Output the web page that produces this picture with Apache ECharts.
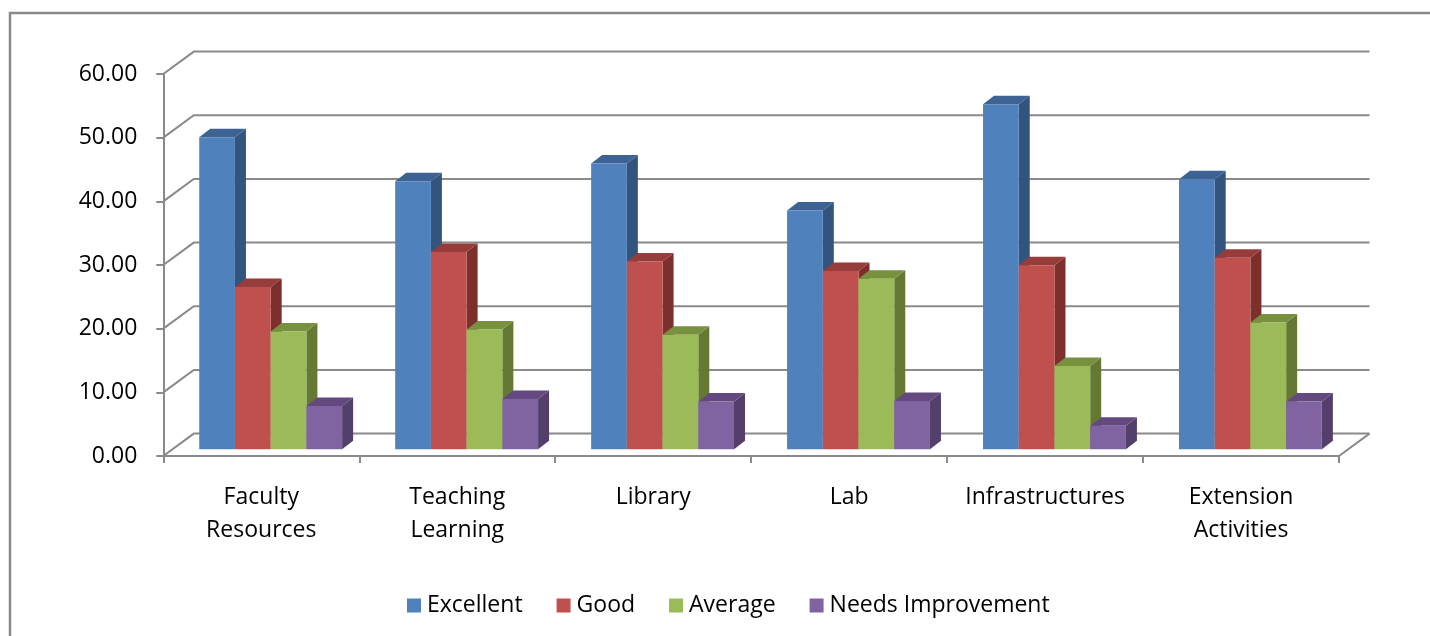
<!DOCTYPE html>
<html><head><meta charset="utf-8">
<script src="https://cdn.jsdelivr.net/npm/echarts@6/dist/echarts.min.js"></script>
<style>html,body{margin:0;padding:0;background:#fff}#c{width:1430px;height:636px}</style>
</head><body><div id="c"></div>
<script>
// ---- data ----
const categories = ['Faculty\nResources', 'Teaching\nLearning', 'Library', 'Lab', 'Infrastructures', 'Extension\nActivities'];
const seriesNames = ['Excellent', 'Good', 'Average', 'Needs Improvement'];
const excellent = [49.0, 42.1, 44.9, 37.5, 54.2, 42.4];
const good = [25.5, 31.0, 29.5, 28.0, 28.9, 30.1];
const average = [18.5, 18.8, 18.0, 26.8, 13.1, 19.9];
const needsImprovement = [6.8, 7.9, 7.5, 7.6, 3.7, 7.5];
const yTicks = [0, 10, 20, 30, 40, 50, 60];

// ---- styles ----
const FONT = 'Open Sans';
const GRID_COLOR = '#8a8a8a';
const palettes = [
  { front: '#4F81BD', top: '#3C6394', side: '#33547D' },
  { front: '#C0504D', top: '#963C3A', side: '#7D2F2D' },
  { front: '#9BBB59', top: '#77913F', side: '#647933' },
  { front: '#8064A2', top: '#63497F', side: '#533F6A' }
];
const WALL_DX = 30.5, WALL_DY = -22.4;   // back wall offset
const PLANE_DX = 9.4, PLANE_DY = -6.7;   // bar front plane offset
const DEPTH_DX = 11, DEPTH_DY = -8.5;    // bar depth
const BAR_FRAC = 0.1823;

const seriesValues = [excellent, good, average, needsImprovement];

function barRenderer(s, pal) {
  return function (params, api) {
    const i = api.value(0), v = api.value(1);
    const top = api.coord([i, v]);
    const base = api.coord([i, 0]);
    const band = api.size([1, 0])[0];
    const bw = band * BAR_FRAC;
    const gw = bw * 4;
    const x0 = top[0] - gw / 2 + s * bw + PLANE_DX;
    const x1 = x0 + bw;
    const yt = top[1] + PLANE_DY, yb = base[1] + PLANE_DY;
    return {
      type: 'group',
      children: [
        { type: 'polygon', shape: { points: [[x1, yt], [x1 + DEPTH_DX, yt + DEPTH_DY], [x1 + DEPTH_DX, yb + DEPTH_DY], [x1, yb]] }, style: { fill: pal.side } },
        { type: 'polygon', shape: { points: [[x0, yt], [x0 + DEPTH_DX, yt + DEPTH_DY], [x1 + DEPTH_DX, yt + DEPTH_DY], [x1, yt]] }, style: { fill: pal.top } },
        { type: 'rect', shape: { x: x0, y: yt, width: bw, height: yb - yt }, style: { fill: pal.front } }
      ]
    };
  };
}

function wallRenderer(params, api) {
  const v = api.value(1);
  const cs = params.coordSys;
  const y = api.coord([0, v])[1];
  const children = [{
    type: 'polyline',
    shape: { points: [[cs.x, y], [cs.x + WALL_DX, y + WALL_DY], [cs.x + cs.width + WALL_DX, y + WALL_DY]] },
    style: { stroke: GRID_COLOR, lineWidth: 2, fill: null }
  }];
  if (v === 0) {
    children.push({
      type: 'line',
      shape: { x1: cs.x + cs.width, y1: y, x2: cs.x + cs.width + WALL_DX, y2: y + WALL_DY },
      style: { stroke: GRID_COLOR, lineWidth: 2 }
    });
  }
  return { type: 'group', children };
}

const series = [{
  type: 'custom',
  name: '_wall',
  silent: true,
  renderItem: wallRenderer,
  data: yTicks.map(v => [0, v]),
  z: 1
}];
seriesNames.forEach((n, s) => {
  series.push({
    type: 'custom',
    name: n,
    renderItem: barRenderer(s, palettes[s]),
    itemStyle: { color: palettes[s].front },
    data: seriesValues[s].map((v, i) => [i, v]),
    z: 2
  });
});

const chart = echarts.init(document.getElementById('c'), null, { renderer: 'canvas' });
chart.setOption({
  animation: false,
  backgroundColor: '#fff',
  textStyle: { fontFamily: FONT },
  graphic: [{
    type: 'rect', z: -10, silent: true,
    shape: { x: 10, y: 13, width: 1500, height: 700 },
    style: { fill: null, stroke: '#8a8a8a', lineWidth: 2.5 }
  }],
  grid: { left: 163.3, right: 91, top: 74, bottom: 180, containLabel: false },
  xAxis: {
    type: 'category',
    data: categories,
    boundaryGap: true,
    axisLine: { show: true, lineStyle: { color: GRID_COLOR, width: 2 } },
    axisTick: { show: true, length: 7, interval: 0, lineStyle: { color: GRID_COLOR, width: 2 } },
    axisLabel: { interval: 0, margin: 25, fontSize: 23, lineHeight: 33, color: '#000', fontFamily: FONT },
    splitLine: { show: false }
  },
  yAxis: {
    type: 'value',
    min: 0, max: 60, interval: 10,
    axisLine: { show: true, lineStyle: { color: GRID_COLOR, width: 2 } },
    axisTick: { show: true, length: 7, lineStyle: { color: GRID_COLOR, width: 2 } },
    axisLabel: { margin: 26, fontSize: 23, color: '#000', fontFamily: FONT, formatter: v => v.toFixed(2) },
    splitLine: { show: false }
  },
  legend: {
    data: seriesNames,
    left: 402, top: 589,
    itemWidth: 14, itemHeight: 14, itemGap: 34,
    icon: 'rect',
    textStyle: { fontSize: 23, color: '#000', fontFamily: FONT, padding: [0, 0, 0, 1] }
  },
  series
});
</script></body></html>
